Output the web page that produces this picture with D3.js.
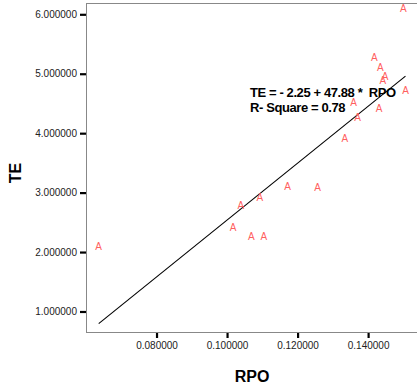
<!DOCTYPE html>
<html>
<head>
<meta charset="utf-8">
<script src="https://cdn.jsdelivr.net/npm/d3@7"></script>
<style>
  body { margin: 0; background: #fff; }
  svg { display: block; font-family: Arial, "Liberation Sans", sans-serif; }
</style>
</head>
<body>
<div id="chart"></div>
<script>
// data
var rpo = [0.0636, 0.1017, 0.1039, 0.1069, 0.1093, 0.1104, 0.1172, 0.1257, 0.1334,
           0.1359, 0.1370, 0.1418, 0.1431, 0.1435, 0.1442, 0.1448, 0.1506, 0.1500];
var te = [2.09, 2.41, 2.79, 2.26, 2.92, 2.26, 3.10, 3.09, 3.91,
          4.52, 4.26, 5.28, 4.41, 5.11, 4.89, 4.95, 4.72, 6.10];
var xTicks = [0.08, 0.10, 0.12, 0.14];
var yTicks = [1, 2, 3, 4, 5, 6];
var intercept = -2.25, slope = 47.88;
var fitLabel = ["TE = - 2.25 + 47.88 *  RPO", "R- Square = 0.78"];

var width = 417, height = 391;
var plotL = 86, plotR = 421, plotT = 3, plotB = 332;

var svg = d3.select("#chart").append("svg")
    .attr("width", width)
    .attr("height", height);

var x = d3.scaleLinear().domain([0.06, 0.155]).range([plotL, plotR]);
var y = d3.scaleLinear().domain([0.655, 6.19]).range([plotB, plotT]);

// frame
svg.append("rect")
    .attr("x", plotL + 0.5).attr("y", plotT + 0.5)
    .attr("width", plotR - plotL).attr("height", plotB - plotT)
    .attr("fill", "none").attr("stroke", "#888").attr("stroke-width", 1);

// y axis
var yAxis = svg.append("g")
    .attr("transform", "translate(" + plotL + ",0)")
    .call(d3.axisLeft(y).tickValues(yTicks).tickFormat(d3.format(".6f")).tickSize(6).tickPadding(3));
yAxis.select(".domain").remove();
yAxis.selectAll(".tick line").attr("stroke", "#000").attr("stroke-width", 2.2);
yAxis.selectAll(".tick text").attr("fill", "#222").style("font-size", "10px")
    .style("font-family", "Arial, 'Liberation Sans', sans-serif");

// x axis
var xAxis = svg.append("g")
    .attr("transform", "translate(0," + (plotB + 1) + ")")
    .call(d3.axisBottom(x).tickValues(xTicks).tickFormat(d3.format(".6f")).tickSize(5).tickPadding(4));
xAxis.select(".domain").remove();
xAxis.selectAll(".tick line").attr("stroke", "#000").attr("stroke-width", 2.2);
xAxis.selectAll(".tick text").attr("fill", "#222").style("font-size", "10px")
    .style("font-family", "Arial, 'Liberation Sans', sans-serif");

// axis titles
svg.append("text")
    .attr("x", 252).attr("y", 382)
    .attr("text-anchor", "middle")
    .style("font-size", "16px").style("font-weight", "bold")
    .text("RPO");

svg.append("text")
    .attr("transform", "translate(21,173) rotate(-90)")
    .attr("text-anchor", "middle")
    .style("font-size", "16px").style("font-weight", "bold")
    .text("TE");

// fit line
var xMin = d3.min(rpo), xMax = d3.max(rpo);
svg.append("line")
    .attr("x1", x(xMin)).attr("y1", y(intercept + slope * xMin))
    .attr("x2", x(xMax)).attr("y2", y(intercept + slope * xMax))
    .attr("stroke", "#000").attr("stroke-width", 1.1);

// points drawn as "A"
var pts = rpo.map(function (d, i) { return { x: d, y: te[i] }; });
svg.selectAll(".pt")
    .data(pts)
    .enter().append("text")
    .attr("class", "pt")
    .attr("x", function (d) { return x(d.x); })
    .attr("y", function (d) { return y(d.y); })
    .attr("dy", "0.36em")
    .attr("text-anchor", "middle")
    .attr("fill", "#ff5f5f")
    .style("font-size", "10px")
    .text("A");

// equation label
svg.selectAll(".fit")
    .data(fitLabel)
    .enter().append("text")
    .attr("class", "fit")
    .attr("x", 250)
    .attr("y", function (d, i) { return 97 + i * 15; })
    .style("font-size", "13px").style("font-weight", "bold")
    .style("letter-spacing", "-0.4px")
    .style("white-space", "pre")
    .text(function (d) { return d; });
</script>
</body>
</html>
